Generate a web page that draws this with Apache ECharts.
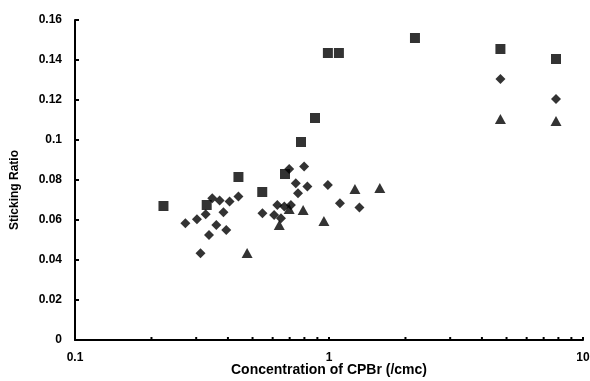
<!DOCTYPE html>
<html>
<head>
<meta charset="utf-8">
<script src="https://cdn.jsdelivr.net/npm/echarts@6/dist/echarts.min.js"></script>
<style>html,body{margin:0;padding:0;background:#fff}#c{width:590px;height:381px}</style>
</head>
<body>
<div id="c"></div>
<script>
// Squares series
const squareX = [0.223, 0.330, 0.440, 0.546, 0.671, 0.776, 0.881, 0.99, 1.094, 2.18, 4.73, 7.83];
const squareY = [0.067, 0.0675, 0.0815, 0.074, 0.083, 0.099, 0.111, 0.1435, 0.1435, 0.151, 0.1455, 0.1405];
// Diamonds series
const diamondX = [0.272, 0.302, 0.327, 0.347, 0.371, 0.406, 0.440, 0.384, 0.360, 0.394, 0.337, 0.312,
  0.547, 0.608, 0.647, 0.626, 0.667, 0.708, 0.697, 0.798, 0.740, 0.822, 0.755, 0.99, 1.104, 1.318, 4.73, 7.83];
const diamondY = [0.0584, 0.0604, 0.0629, 0.0709, 0.0697, 0.0692, 0.0717, 0.0639, 0.0575, 0.055, 0.0525, 0.0434,
  0.0634, 0.0625, 0.0609, 0.0675, 0.0667, 0.0675, 0.0855, 0.0867, 0.0784, 0.0767, 0.0734, 0.0775, 0.0684, 0.0663, 0.1305, 0.1205];
// Triangles series
const triangleX = [0.476, 0.637, 0.697, 0.791, 0.955, 1.265, 1.585, 4.73, 7.83];
const triangleY = [0.0435, 0.0575, 0.0655, 0.065, 0.0595, 0.0755, 0.076, 0.1105, 0.1095];
// Axis ticks
const yTicks = [0, 0.02, 0.04, 0.06, 0.08, 0.1, 0.12, 0.14, 0.16];
const xMinorTicks = [0.2, 0.3, 0.4, 0.5, 0.6, 0.7, 0.8, 0.9, 1, 2, 3, 4, 5, 6, 7, 8, 9, 10];

const zip = (xs, ys) => xs.map((x, i) => [x, ys[i]]);
const font = 'Liberation Sans, Arial, sans-serif';

const chart = echarts.init(document.getElementById('c'));
chart.setOption({
  animation: false,
  grid: { left: 75, right: 7, top: 20, bottom: 41, containLabel: false, outerBoundsMode: 'none' },
  xAxis: {
    type: 'log', logBase: 10, min: 0.1, max: 10,
    name: 'Concentration of CPBr (/cmc)',
    nameLocation: 'middle', nameGap: 23, nameMoveOverlap: false,
    nameTextStyle: { fontFamily: font, fontWeight: 'bold', fontSize: 14, color: '#000' },
    axisLine: { lineStyle: { color: '#000', width: 2 } },
    axisTick: { show: false },
    splitLine: { show: false },
    minorTick: { show: false },
    axisLabel: { fontFamily: font, fontWeight: 'bold', fontSize: 12, color: '#000', margin: 12,
      formatter: v => String(v) }
  },
  yAxis: {
    type: 'value', min: 0, max: 0.16, interval: 0.02,
    name: 'Sticking Ratio',
    nameLocation: 'middle', nameGap: 54, nameRotate: 90, nameMoveOverlap: false,
    nameTextStyle: { fontFamily: font, fontWeight: 'bold', fontSize: 12, color: '#000', padding: [0, 20, 0, 0] },
    axisLine: { show: true, lineStyle: { color: '#000', width: 2 } },
    axisTick: { show: true, inside: true, length: 4, lineStyle: { color: '#000', width: 2 } },
    splitLine: { show: false },
    axisLabel: { fontFamily: font, fontWeight: 'bold', fontSize: 12, color: '#000', margin: 13,
      formatter: v => yTicks.includes(+v.toFixed(2)) ? String(+v.toFixed(2)) : '' }
  },
  series: [
    {
      type: 'custom', silent: true, clip: false, z: 1,
      data: xMinorTicks.map(v => [v, 0]),
      renderItem: (params, api) => {
        const p = api.coord([api.value(0), 0]);
        return { type: 'line', shape: { x1: p[0], y1: p[1], x2: p[0], y2: p[1] - 3 },
          style: { stroke: '#000', lineWidth: 2 } };
      }
    },
    {
      type: 'scatter', symbol: 'rect', symbolSize: 10, itemStyle: { color: '#000' },
      data: zip(squareX, squareY), z: 3
    },
    {
      type: 'scatter', symbol: 'diamond', symbolSize: [10, 10], itemStyle: { color: '#000' },
      data: zip(diamondX, diamondY), z: 3
    },
    {
      type: 'scatter', symbol: 'triangle', symbolSize: [11, 10], itemStyle: { color: '#000' },
      data: zip(triangleX, triangleY), z: 3
    }
  ]
});
</script>
</body>
</html>
